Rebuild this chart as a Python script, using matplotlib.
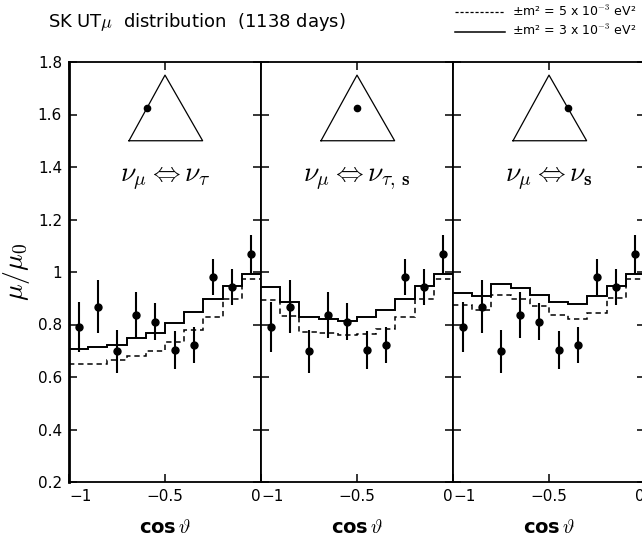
import numpy as np
import matplotlib
matplotlib.use("Agg")
import matplotlib.pyplot as plt

plt.rcParams['mathtext.fontset'] = 'cm'
plt.rcParams['font.family'] = ['DejaVu Sans']

# ---- data ----
bin_edges = [-1.0, -0.9, -0.8, -0.7, -0.6, -0.5, -0.4, -0.3, -0.2, -0.1, 0.0]
cos_centers = [-0.95, -0.85, -0.75, -0.65, -0.55, -0.45, -0.35, -0.25, -0.15, -0.05]
data_ratio = [0.792, 0.868, 0.698, 0.836, 0.811, 0.703, 0.721, 0.980, 0.944, 1.067]
data_err = [0.095, 0.100, 0.081, 0.088, 0.070, 0.073, 0.068, 0.069, 0.068, 0.073]

# nu_mu <-> nu_tau
tau_solid = [0.708, 0.714, 0.721, 0.747, 0.766, 0.806, 0.846, 0.897, 0.947, 0.994]
tau_dash = [0.648, 0.648, 0.665, 0.680, 0.700, 0.733, 0.778, 0.830, 0.898, 0.975]
# nu_mu <-> nu_tau,s
mix_solid = [0.942, 0.887, 0.827, 0.820, 0.813, 0.827, 0.855, 0.897, 0.947, 0.994]
mix_dash = [0.892, 0.834, 0.771, 0.768, 0.760, 0.763, 0.784, 0.830, 0.898, 0.975]
# nu_mu <-> nu_s
ster_solid = [0.919, 0.910, 0.954, 0.938, 0.911, 0.887, 0.878, 0.907, 0.947, 0.994]
ster_dash = [0.874, 0.855, 0.911, 0.898, 0.870, 0.835, 0.821, 0.843, 0.901, 0.975]

panel_labels = [r'$\nu_\mu \Leftrightarrow \nu_\tau$',
                r'$\nu_\mu \Leftrightarrow \nu_{\tau,\,\mathbf{s}}$',
                r'$\nu_\mu \Leftrightarrow \nu_\mathbf{s}$']

# triangle (mixing diagram) vertices and the dot position in each panel
tri_x = [-0.6875, -0.5, -0.304, -0.6875]
tri_y = [1.50, 1.75, 1.50, 1.50]
dot_x = [-0.594, -0.50, -0.402]
dot_y = [1.625, 1.625, 1.625]

solids = [tau_solid, mix_solid, ster_solid]
dashes = [tau_dash, mix_dash, ster_dash]

y_ticks = [0.2, 0.4, 0.6, 0.8, 1.0, 1.2, 1.4, 1.6, 1.8]
y_ticklabels = ['0.2', '0.4', '0.6', '0.8', '1', '1.2', '1.4', '1.6', '1.8']
x_ticks = [-1, -0.5, 0]
x_ticklabels = ['\u22121', '\u22120.5', '0']

fig = plt.figure(figsize=(6.42, 5.41), dpi=100)
W, H = 642, 541
lefts = [69, 261, 453]
pw = 192
top, bottom = 62, 482

for i in range(3):
    ax = fig.add_axes([lefts[i] / W, 1 - bottom / H, pw / W, (bottom - top) / H])
    ax.set_xlim(-1, 0)
    ax.set_ylim(0.2, 1.8)
    ax.stairs(solids[i], bin_edges, color='black', lw=1.4, baseline=None)
    ax.stairs(dashes[i], bin_edges, color='black', lw=1.1, ls=(0, (3.5, 2.5)), baseline=None)
    ax.errorbar(cos_centers, data_ratio, yerr=data_err, fmt='o', color='black',
                ms=5, elinewidth=1.5, capsize=0)
    ax.plot(tri_x, tri_y, color='black', lw=0.9)
    ax.plot(dot_x[i], dot_y[i], 'o', color='black', ms=4.5)
    ax.text(-0.5, 1.36, panel_labels[i], ha='center', va='center', fontsize=20)

    ax.set_xticks(x_ticks)
    ax.set_xticklabels(x_ticklabels, fontsize=11)
    labs = ax.get_xticklabels()
    labs[0].set_ha('left')
    labs[2].set_ha('right')
    ax.set_yticks(y_ticks)
    ax.tick_params(direction='in', length=6, width=1.1, top=True, right=True, pad=5)
    if i == 0:
        ax.set_yticklabels(y_ticklabels, fontsize=11)
        ax.set_ylabel(r'$\mu/\mu_0$', fontsize=20, labelpad=4)
    else:
        ax.set_yticklabels([])
    ax.set_xlabel('cos' + r'$\,\vartheta$', fontsize=14, fontweight='bold', labelpad=10)
    for s in ax.spines.values():
        s.set_linewidth(1.3)
    if i == 0:
        ax.spines['left'].set_linewidth(2.0)

fig.text(48 / W, 1 - 22 / H, r'SK UT$\mu$  distribution  (1138 days)', fontsize=13,
         ha='left', va='center')

# legend
fig.add_artist(plt.Line2D([455 / W, 505 / W], [1 - 12 / H, 1 - 12 / H], color='black',
                          lw=0.9, ls=(0, (2.5, 1.5))))
fig.add_artist(plt.Line2D([455 / W, 505 / W], [1 - 32 / H, 1 - 32 / H], color='black', lw=1.1))
fig.text(512 / W, 1 - 11 / H, '\u00b1m\u00b2 = 5 x 10$^{-3}$ eV\u00b2', fontsize=9,
         ha='left', va='center')
fig.text(512 / W, 1 - 30 / H, '\u00b1m\u00b2 = 3 x 10$^{-3}$ eV\u00b2', fontsize=9,
         ha='left', va='center')

fig.savefig('out.png', dpi=100)
